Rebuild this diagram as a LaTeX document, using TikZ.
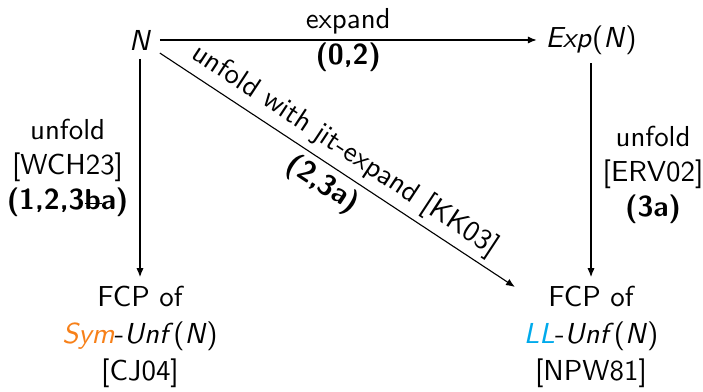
\documentclass[tikz,border=0pt]{standalone}
\usepackage{tikz}
\usetikzlibrary{arrows.meta, positioning}
\usepackage{xcolor}
\definecolor{SymO}{RGB}{247,128,24}
\definecolor{LLB}{RGB}{0,170,235}
% struck-through b
\newcommand{\strb}{\makebox[0pt][l]{\rule[0.45ex]{0.6em}{0.06ex}}b}

\begin{document}
\begin{tikzpicture}[x=0.36pt, y=-0.36pt,
  state/.style={font=\fontsize{10.4}{13.4}\sffamily, align=center, inner sep=3pt},
  lbl/.style={font=\fontsize{10.4}{12.6}\sffamily, align=center, inner sep=4pt},
  arr/.style={-{Latex[length=3.2pt,width=2.6pt]}, line width=0.4pt}
]
\useasboundingbox (0,0) rectangle (703,392);

% the four corners
\node[state] (net) at (140,40) {\textit{N}};
\node[state] (exp) at (591,40) {\textit{Exp}(\textit{N})};
\node[state] (sym) at (140,337)
  {FCP of\\ \textcolor{SymO}{\textit{Sym}}-\textit{Unf}\/(\textit{N})\\ {[CJ04]}};
\node[state] (ll) at (591,337)
  {FCP of\\ \textcolor{LLB}{\textit{LL}}-\textit{Unf}\/(\textit{N})\\ {[NPW81]}};

% arrows
\draw[arr] (net) -- (exp)
  node[lbl, midway, above, inner sep=2pt] {expand}
  node[lbl, midway, below, inner sep=1pt] {\bfseries (0,2)};
\draw[arr] (net) -- (sym)
  node[lbl, midway, left] {unfold\\ {[WCH23]}\\ \bfseries (1,2,3\strb a)};
\draw[arr] (exp) -- (ll)
  node[lbl, pos=0.52, right] {unfold\\ {[ERV02]}\\ \bfseries (3a)};
\draw[arr] (net) -- (ll)
  node[lbl, pos=0.49, above, sloped, inner sep=2pt] {unfold with jit-expand [KK03]}
  node[lbl, pos=0.49, below, sloped, inner sep=2pt] {\bfseries (2,3a)};
\end{tikzpicture}
\end{document}
